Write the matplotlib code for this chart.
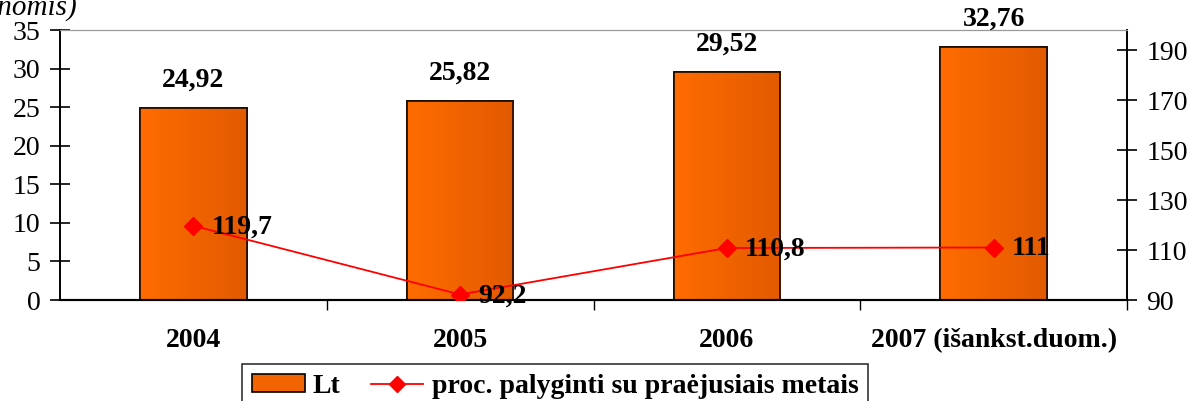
import matplotlib
matplotlib.use("Agg")
import matplotlib.pyplot as plt
import numpy as np
from matplotlib.colors import LinearSegmentedColormap
from matplotlib.lines import Line2D
from matplotlib.patches import Patch

categories = ["2004", "2005", "2006", "2007 (išankst.duom.)"]
lt_values = [24.92, 25.82, 29.52, 32.76]
pct_values = [119.7, 92.2, 110.8, 111.0]
lt_labels = ["24,92", "25,82", "29,52", "32,76"]
pct_labels = ["119,7", "92,2", "110,8", "111"]
left_ticks = [0, 5, 10, 15, 20, 25, 30, 35]
right_ticks = [90, 110, 130, 150, 170, 190]

plt.rcParams['font.family'] = ['Liberation Serif', 'DejaVu Serif']

fig = plt.figure(figsize=(11.91, 4.01), dpi=100)
W, H = 1191, 401
ax = fig.add_axes([60 / W, 1 - 300 / H, (1127 - 60) / W, (300 - 30) / H])
ax2 = ax.twinx()

x = np.arange(len(categories))
cmap = LinearSegmentedColormap.from_list("o", ["#FF6C00", "#E25A00"])
bars = ax.bar(x, lt_values, width=0.4, color="#F26400", edgecolor="black", linewidth=1.2, zorder=2)
grad = np.linspace(0, 1, 256).reshape(1, -1)
for b in bars:
    x0, y0 = b.get_x(), b.get_y()
    im = ax.imshow(grad, cmap=cmap, aspect="auto", extent=[x0, x0 + b.get_width(), y0, y0 + b.get_height()],
                   zorder=2.1)
    im.set_clip_path(b)
    bb = plt.Rectangle((x0, y0), b.get_width(), b.get_height(), fill=False, edgecolor="#1a0a00",
                       linewidth=1.2, zorder=2.2)
    ax.add_patch(bb)

ax.set_xlim(-0.5, 3.5)
ax.set_ylim(0, 35)
ax.set_yticks(left_ticks)
ax.set_xticks(x)
ax.set_xticklabels(categories, fontsize=20, fontweight="bold")
ax.tick_params(axis="x", length=0, pad=20)
ax.set_xticks([0.5, 1.5, 2.5, 3.5], minor=True)
ax.tick_params(axis="x", which="minor", length=7, direction="out", width=1)
ax.tick_params(axis="y", labelsize=20, direction="inout", length=14, width=1.2, pad=7)

for i, v in enumerate(lt_values):
    ax.annotate(lt_labels[i], (x[i], v), xytext=(0, 11), textcoords="offset points",
                ha="center", va="bottom", fontsize=20, fontweight="bold")

ax2.set_ylim(90, 198)
ax2.set_yticks(right_ticks)
ax2.tick_params(axis="y", labelsize=20, direction="inout", length=14, width=1.2, pad=7)
ax2.plot(x, pct_values, color="red", linewidth=1.3, marker="D", markersize=9, zorder=5)
for i, v in enumerate(pct_values):
    ax2.annotate(pct_labels[i], (x[i], v), xytext=(13, -1), textcoords="offset points",
                 ha="left", va="center", fontsize=20, fontweight="bold", zorder=6)

for a in (ax, ax2):
    a.spines["top"].set_color("#999999")
    a.spines["left"].set_color("black")
    a.spines["right"].set_color("black")
    a.spines["left"].set_linewidth(1.2)
    a.spines["right"].set_linewidth(1.2)
    a.spines["bottom"].set_linewidth(1.5)

fig.text(77 / W, 1 - 15 / H, "(to meto kainomis)", ha="right", va="baseline", fontsize=21, style="italic")

handles = [Patch(facecolor="#F26400", edgecolor="black", linewidth=1.2),
           Line2D([], [], color="red", marker="D", markersize=8, linewidth=1.3)]
leg = fig.legend(handles, ["Lt", "proc. palyginti su praėjusiais metais"], loc="upper left",
                 bbox_to_anchor=(242 / W, 1 - 364 / H), ncol=2, frameon=True, fancybox=False,
                 prop={"size": 20, "weight": "bold"}, handlelength=1.9, handleheight=0.58,
                 columnspacing=1.08, borderpad=0.35, handletextpad=0.3, borderaxespad=0)
leg.get_frame().set_edgecolor("black")
leg.get_frame().set_linewidth(1.2)

fig.savefig("out.png", dpi=100)
